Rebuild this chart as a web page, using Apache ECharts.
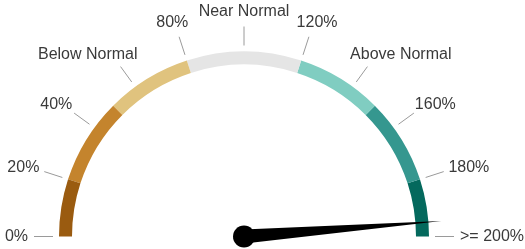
<!DOCTYPE html>
<html>
<head>
<meta charset="utf-8">
<style>
  html, body { margin: 0; padding: 0; background: #fff; }
  #gauge { width: 525px; height: 249px; }
</style>
<script src="https://cdn.jsdelivr.net/npm/echarts@6/dist/echarts.min.js"></script>
</head>
<body>
<div id="gauge"></div>
<script>
// scale 0..200 (%), labels every 20
var tickValues = [0, 20, 40, 60, 80, 100, 120, 140, 160, 180, 200];
var tickLabels = ['0%', '20%', '40%', 'Below Normal', '80%', 'Near Normal', '120%', 'Above Normal', '160%', '180%', '>= 200%'];
// colour bands: upper bound of each band
var bandEnds = [20, 50, 80, 120, 150, 180, 200];
var bandColors = ['#9a5b10', '#c4842d', '#e0c37e', '#e5e5e5', '#80cdc1', '#35978f', '#04695d'];
var pointerValue = 195;

var maxVal = 200;
var fontSize = 16;
var fontFamily = 'Liberation Sans, Arial, sans-serif';
var lineH = 17;

// measure label text so each label can sit just outside the arc
var ctx = document.createElement('canvas').getContext('2d');
ctx.font = fontSize + 'px ' + fontFamily;

var rich = {};
tickValues.forEach(function (v, i) {
    var w = ctx.measureText(tickLabels[i]).width;
    var ang = Math.PI * (1 - v / maxVal);
    var dx = Math.cos(ang) * w / 2;
    var dy = -Math.sin(ang) * lineH / 2;
    rich['l' + i] = {
        fontSize: fontSize,
        fontFamily: fontFamily,
        color: '#3a3a3a',
        lineHeight: lineH,
        padding: [
            dy > 0 ? 2 * dy : 0,
            dx < 0 ? -2 * dx : 0,
            dy < 0 ? -2 * dy : 0,
            dx > 0 ? 2 * dx : 0
        ]
    };
});

var myChart = echarts.init(document.getElementById('gauge'));

var option = {
    animation: false,
    series: [
        {
            type: 'gauge',
            center: [244, 236.5],
            radius: 185,
            startAngle: 180,
            endAngle: 0,
            min: 0,
            max: maxVal,
            splitNumber: 10,
            axisLine: {
                lineStyle: {
                    width: 13,
                    color: bandEnds.map(function (e, i) { return [e / maxVal, bandColors[i]]; })
                }
            },
            axisTick: { show: false },
            splitLine: {
                show: true,
                distance: -38,
                length: 19,
                lineStyle: { color: '#9a9a9a', width: 1 }
            },
            axisLabel: {
                show: true,
                distance: -12,
                rotate: 0.0001,
                formatter: function (val) {
                    var i = tickValues.indexOf(Math.round(val));
                    return '{l' + i + '|' + tickLabels[i] + '}';
                },
                rich: rich
            },
            pointer: {
                show: true,
                icon: 'path://M5,0 L10,100 L0,100 Z',
                width: 14,
                length: '107%',
                offsetCenter: [0, 0],
                itemStyle: { color: '#000' }
            },
            anchor: {
                show: true,
                showAbove: true,
                size: 22,
                itemStyle: { color: '#000' }
            },
            title: { show: false },
            detail: { show: false },
            data: [{ value: pointerValue }]
        }
    ]
};

myChart.setOption(option);
</script>
</body>
</html>
